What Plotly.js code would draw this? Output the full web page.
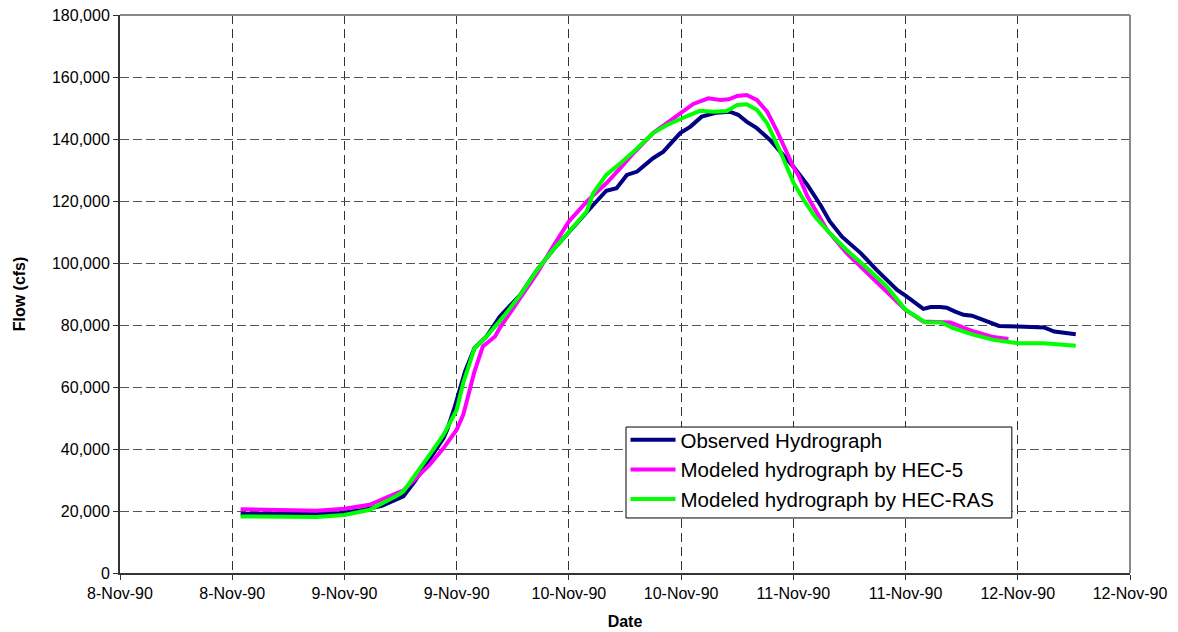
<!DOCTYPE html>
<html>
<head>
<meta charset="utf-8">
<script src="https://cdn.plot.ly/plotly-3.0.1.min.js"></script>
<style>html,body{margin:0;padding:0;background:#fff;}#chart{width:1178px;height:632px;}</style>
</head>
<body>
<div id="chart"></div>
<script>
// Hours after 8-Nov-90 00:00 and flows (cfs)
const obsHours = [12.9, 15, 17, 19, 21, 23, 24, 26, 28, 29.6, 30.3, 31.5, 33.1, 34.6, 35, 35.8, 36.9, 37.9, 39.2, 40.6, 42.8, 44.6, 46.3, 48, 49.9, 50.6, 52, 53.1, 54.2, 55.3, 57, 58.1, 59.9, 61, 62.2, 63.8, 65.2, 66.1, 67, 68.1, 69.5, 70.9, 72, 73.5, 74.9, 75.9, 77.2, 79.2, 80.9, 83.1, 84, 85.9, 86.7, 87.7, 88.4, 89.3, 90.2, 91.1, 92.4, 94, 96, 98.8, 99.9, 102.2];
const obsFlow = [19100, 19100, 19000, 18900, 18800, 19100, 19500, 20300, 21700, 23600, 24700, 29500, 36500, 43500, 46300, 53700, 65000, 72500, 76300, 82700, 89700, 97800, 104200, 110100, 116600, 118700, 123300, 124100, 128400, 129500, 133800, 135900, 141900, 144000, 147200, 148500, 148800, 147800, 145600, 143500, 139700, 134900, 131100, 125200, 118700, 113400, 108500, 103200, 97800, 91300, 89500, 85200, 85800, 85800, 85600, 84300, 83300, 83000, 81400, 79700, 79500, 79200, 77900, 77000];

const hec5Hours = [12.9, 17, 21, 24, 26.7, 29.6, 30.3, 33.1, 34.6, 36, 36.7, 37.4, 37.9, 38.8, 40.1, 40.6, 42.4, 44.6, 46.3, 48, 49.9, 52, 53.5, 54.9, 57, 58.5, 60.1, 61.3, 62.9, 64.2, 65.1, 66, 67, 68.1, 69.2, 70.2, 72, 72.6, 73.5, 75.6, 77.7, 79.9, 82, 84, 85.9, 87.5, 88.8, 91.3, 93.4, 95];
const hec5Flow = [20600, 20400, 20100, 20700, 22000, 25800, 26600, 34900, 40300, 46200, 51000, 59100, 65000, 73100, 76300, 79000, 87000, 96700, 105300, 113400, 119800, 125700, 130600, 135400, 141900, 145100, 148800, 151300, 153100, 152600, 152800, 153900, 154200, 152600, 148800, 142900, 131000, 127900, 121500, 110700, 103200, 96700, 90800, 84900, 81100, 80800, 80800, 77900, 76100, 75500];

const rasHours = [12.9, 17, 21, 24, 26.7, 29.6, 30.3, 33.1, 34.6, 36, 36.7, 37.4, 37.9, 39.2, 41, 42.8, 44.6, 46.3, 48, 49.9, 50.6, 52, 53.5, 54.9, 57, 58.5, 60.1, 62, 63.5, 64.9, 66, 67, 68.1, 69.2, 70.6, 72, 73.1, 74.3, 75.9, 77.7, 79.9, 82, 84, 86.1, 87.8, 89.1, 91.3, 93.4, 96, 98.8, 102.2];
const rasFlow = [18250, 18200, 18050, 18700, 20400, 24900, 26300, 38100, 44600, 52600, 61300, 67800, 72500, 76300, 82700, 89700, 97800, 104200, 110100, 116600, 122500, 128400, 132200, 135900, 141900, 144500, 146700, 149100, 148800, 149050, 151000, 151200, 149400, 145100, 136000, 126000, 120400, 115000, 109600, 104200, 98300, 92400, 84900, 80900, 80800, 79000, 76800, 75200, 74150, 74100, 73300];

const seriesNames = ["Observed Hydrograph", "Modeled hydrograph by HEC-5", "Modeled hydrograph by HEC-RAS"];
const seriesColors = ["#000080", "#FF00FF", "#00FF00"];

const startMs = Date.UTC(1990, 10, 8, 0, 0, 0);
function toDate(h) {
  const d = new Date(startMs + h * 3600 * 1000);
  const p = n => String(n).padStart(2, "0");
  return d.getUTCFullYear() + "-" + p(d.getUTCMonth() + 1) + "-" + p(d.getUTCDate()) + " " +
    p(d.getUTCHours()) + ":" + p(d.getUTCMinutes()) + ":" + p(d.getUTCSeconds());
}

const FONT = "Arial, 'Liberation Sans', Helvetica, sans-serif";
const allHours = [obsHours, hec5Hours, rasHours];
const allFlows = [obsFlow, hec5Flow, rasFlow];

const traces = allHours.map((hrs, i) => ({
  type: "scatter",
  mode: "lines",
  name: seriesNames[i],
  x: hrs.map(toDate),
  y: allFlows[i],
  line: { color: seriesColors[i], width: 4 },
  hoverinfo: "x+y"
}));

const layout = {
  width: 1178,
  height: 632,
  margin: { l: 120, r: 48, t: 15, b: 59 },
  paper_bgcolor: "#ffffff",
  plot_bgcolor: "#ffffff",
  font: { family: FONT, color: "#000000", size: 16 },
  showlegend: true,
  legend: {
    x: 0.5005, y: 0.2742, xanchor: "left", yanchor: "top",
    bgcolor: "rgba(0,0,0,0)", borderwidth: 0,
    itemwidth: 45,
    font: { family: FONT, size: 20.5, color: "#000000" }
  },
  xaxis: {
    type: "date",
    range: [toDate(0), toDate(108)],
    tick0: toDate(0),
    dtick: 43200000,
    tickformat: "%-d-%b-%y",
    ticks: "outside", ticklen: 5, tickwidth: 1, tickcolor: "#333333",
    showline: true, linecolor: "#333333", linewidth: 2,
    showgrid: true, gridcolor: "#333333", gridwidth: 1, griddash: "9px,5px",
    zeroline: false,
    tickfont: { family: FONT, size: 16, color: "#000000" },
    title: { text: "Date", font: { family: FONT, size: 16, weight: "bold", color: "#000000" }, standoff: 15 }
  },
  yaxis: {
    range: [0, 180000],
    dtick: 20000,
    tickformat: ",d",
    ticks: "outside", ticklen: 5, tickwidth: 1, tickcolor: "#333333",
    showline: true, linecolor: "#333333", linewidth: 2,
    showgrid: true, gridcolor: "#555555", gridwidth: 1, griddash: "9px,4px",
    zeroline: false,
    tickfont: { family: FONT, size: 16, color: "#000000" },
    title: { text: "Flow (cfs)", font: { family: FONT, size: 16, weight: "bold", color: "#000000" }, standoff: 22 }
  },
  shapes: [
    { type: "line", xref: "paper", yref: "paper", x0: 0, x1: 1, y0: 1, y1: 1, line: { color: "#888888", width: 2 } },
    { type: "line", xref: "paper", yref: "paper", x0: 1, x1: 1, y0: 0, y1: 1, line: { color: "#888888", width: 2 } },
    { type: "rect", xref: "paper", yref: "paper", layer: "above", x0: 0.501, x1: 0.883, y0: 0.0986, y1: 0.2616,
      fillcolor: "#ffffff", line: { color: "#000000", width: 1 } }
  ]
};

Plotly.newPlot("chart", traces, layout, { displayModeBar: false, staticPlot: true });
</script>
</body>
</html>
